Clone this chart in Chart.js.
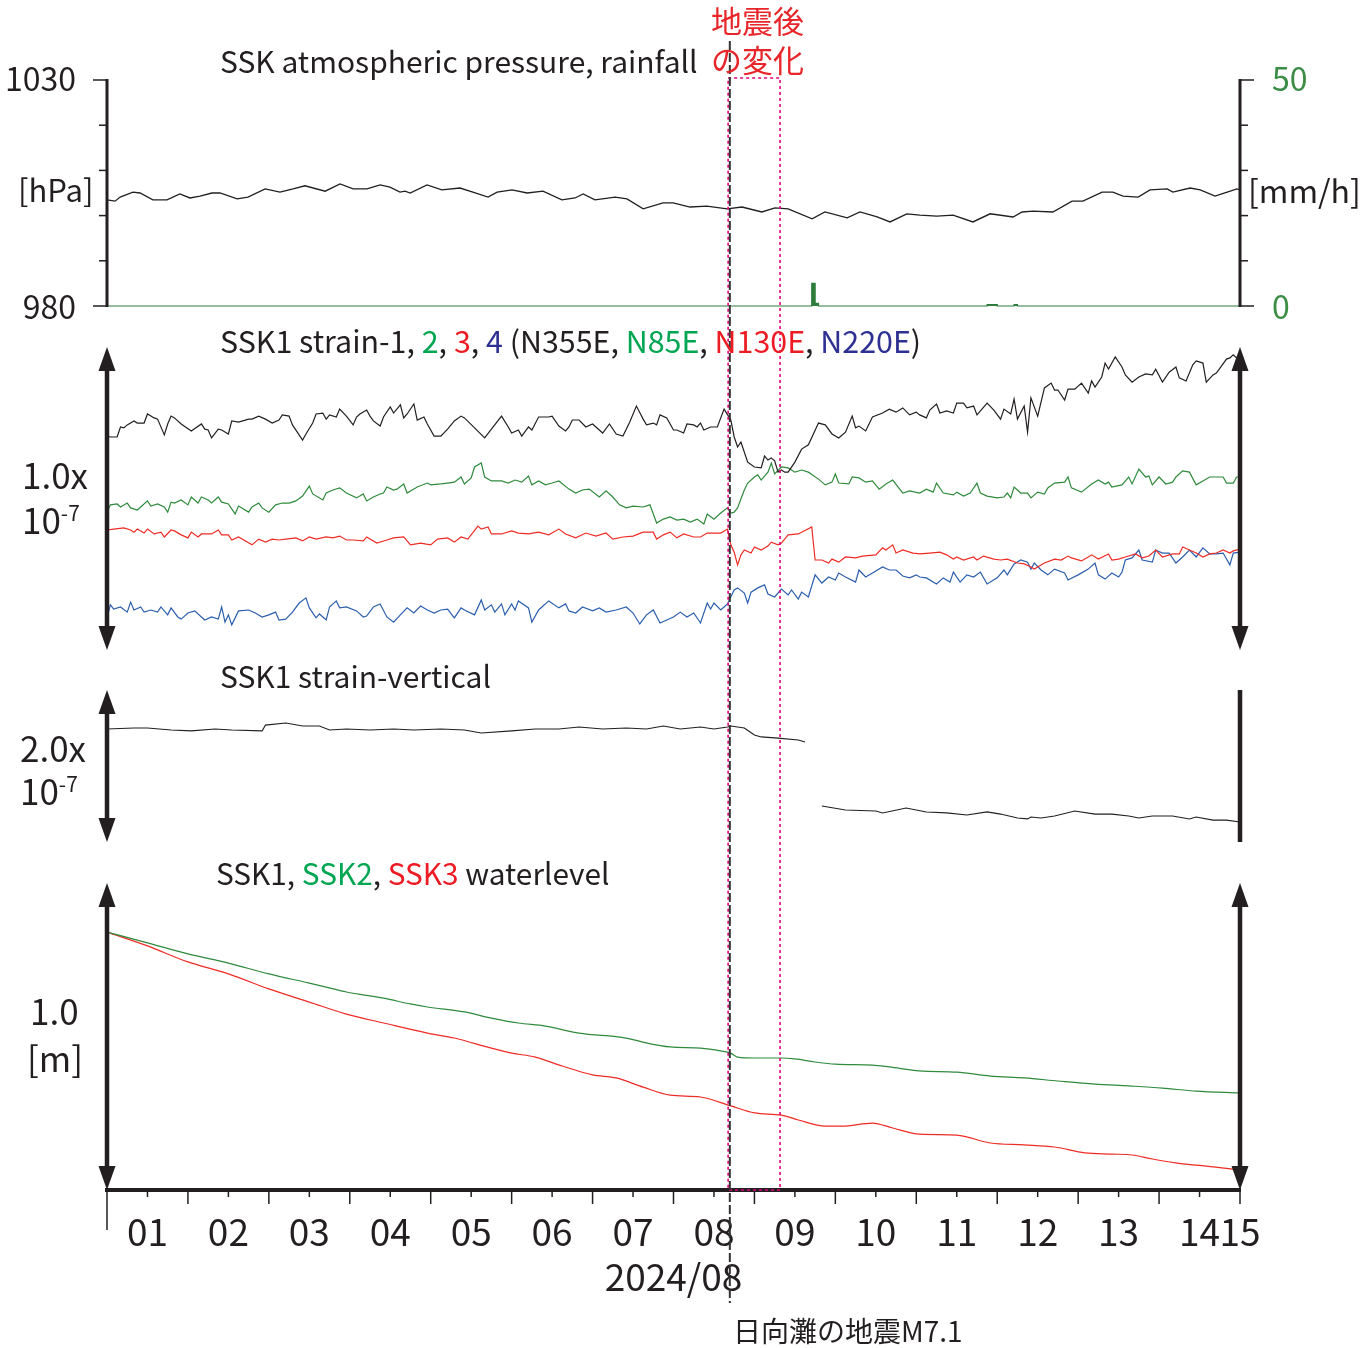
<!DOCTYPE html>
<html lang="ja">
<head>
<meta charset="utf-8">
<title>SSK 観測データ 2024/08</title>
<script src="https://cdn.jsdelivr.net/npm/chart.js@4.4.1/dist/chart.umd.min.js"></script>
<style>
    body { margin: 0; background: #ffffff; }
    #page { position: relative; width: 1371px; height: 1348px; overflow: hidden; }
    #obsChart { position: absolute; left: 0; top: 0; }
    .lbl { position: absolute; white-space: nowrap; line-height: 1; color: #231f20;
           font-family: "Noto Sans CJK JP", "Liberation Sans", sans-serif; }
    .lbl sup { font-size: 0.6em; position: relative; top: -0.6em; vertical-align: baseline; }
    .c2 { color: #00a651; }
    .c3 { color: #ed1c24; }
    .c4 { color: #2e3192; }
</style>
</head>
<body>
<div id="page">
    <canvas id="obsChart" width="1371" height="1348"></canvas>
</div>
<script>
// time axis: hours since 2024/08/01 00:00 (JST)
const dayLabels = ["01", "02", "03", "04", "05", "06", "07", "08", "09", "10", "11", "12", "13", "14", "15"];
const pressureTicks = [980, 990, 1000, 1010, 1020, 1030];
const rainTicks = [0, 10, 20, 30, 40, 50];
const quakeHour = 184.7;            // 日向灘 M7.1, 8/8 16:43
const changeWindow = [184.2, 199.6]; // 地震後の変化

// [hour, hPa]
const pressure = [[0,1003.5],[2.4,1003.2],[3.9,1004.1],[7.7,1005.2],[9.8,1005.0],[13.6,1003.5],[17.8,1003.5],[21.6,1004.8],[24.6,1003.9],[27.6,1004.3],[31.1,1005.0],[33.5,1005.0],[38.6,1003.7],[41.8,1004.1],[46.9,1005.9],[51.3,1005.2],[55.2,1005.9],[58.7,1006.6],[64.7,1005.4],[69.1,1007.0],[73.0,1005.9],[77.1,1005.9],[81.0,1006.8],[83.9,1006.3],[86.9,1005.2],[88.4,1005.4],[89.9,1005.0],[94.9,1006.8],[99.3,1005.7],[104.7,1006.1],[108.5,1005.2],[113.0,1004.1],[115.7,1005.2],[120.1,1005.7],[124.6,1005.0],[129.3,1005.4],[134.9,1003.5],[138.8,1003.9],[141.2,1004.8],[144.7,1003.5],[150.7,1004.1],[154.2,1003.7],[159.0,1001.5],[164.9,1002.8],[167.9,1002.8],[172.9,1001.9],[177.9,1002.1],[183.9,1001.5],[188.3,1001.9],[194.2,1000.8],[198.1,1001.7],[202.0,1001.5],[209.1,999.3],[212.9,1000.8],[219.5,999.5],[223.3,1000.8],[228.4,999.7],[232.2,998.6],[237.2,1000.4],[241.1,1000.1],[246.1,999.9],[250.9,1000.1],[256.8,998.6],[261.9,1000.4],[268.7,999.7],[271.4,1000.8],[274.6,1001.0],[280.5,1000.8],[286.2,1003.2],[289.4,1003.2],[295.1,1005.2],[298.3,1005.2],[301.3,1004.3],[305.8,1004.1],[309.3,1005.7],[314.4,1005.9],[316.1,1005.2],[321.2,1006.1],[324.2,1005.7],[328.6,1004.3],[332.2,1005.2],[335.1,1005.9],[336.0,1005.7]];

// [hour, mm/h]
const rainfall = [[0,0],[209,5.0],[210,0.6],[211,0],[261,0.3],[264,0],[269,0.3],[270,0],[336,0]];

// [hour, strain x1e-9]
const strain1 = [[0,70.6],[1,70.3],[3,70.3],[4,73.6],[5,73.3],[6,74.3],[8,75.6],[9,74.9],[11,74.9],[12,77.9],[14,76.6],[15,76.2],[17,71.0],[18,74.6],[19,77.2],[20,76.6],[22,74.6],[25,72.3],[28,74.6],[29,72.9],[30,72.6],[31,70.0],[33,72.9],[34,72.6],[36,71.3],[37,75.6],[39,75.2],[42,76.2],[43,76.2],[45,77.2],[47,76.2],[49,74.9],[51,75.9],[52,77.6],[54,77.2],[55,74.3],[58,69.3],[59,71.3],[61,74.9],[62,77.9],[64,78.2],[65,76.2],[66,77.6],[68,76.9],[69,79.5],[71,77.2],[73,74.3],[74,76.9],[75,77.9],[77,79.2],[78,77.2],[79,75.6],[81,73.9],[82,76.9],[84,80.2],[85,78.2],[87,80.9],[88,76.6],[89,77.9],[91,81.2],[92,75.9],[94,76.9],[95,74.6],[97,70.6],[99,70.6],[101,72.9],[103,75.6],[105,77.2],[106,76.6],[109,73.3],[112,70.0],[114,72.9],[117,77.2],[119,73.6],[120,71.6],[122,72.6],[123,70.6],[125,73.6],[126,72.6],[128,76.9],[131,76.9],[132,77.2],[134,73.9],[136,72.3],[137,73.6],[138,75.9],[140,75.9],[142,73.6],[144,74.6],[147,71.6],[149,74.6],[151,71.3],[153,70.6],[155,75.2],[157,80.5],[159,76.2],[160,74.3],[162,74.9],[163,74.3],[164,77.6],[166,76.6],[168,72.6],[169,72.6],[171,71.6],[172,74.6],[174,74.3],[175,73.6],[176,74.9],[177,72.6],[179,73.6],[181,73.6],[183,79.5],[185,75.9],[186,70.3],[187,67.0],[188,68.6],[190,62.0],[192,60.4],[194,60.1],[195,64.0],[196,62.7],[197,63.4],[198,62.4],[199,58.7],[200,59.4],[201,58.7],[202,58.7],[204,62.0],[206,66.3],[208,67.7],[211,74.9],[213,74.3],[215,71.3],[217,70.0],[219,71.9],[221,77.2],[222,73.3],[223,73.9],[225,72.3],[227,76.9],[230,78.2],[232,79.5],[234,78.5],[236,79.9],[238,77.6],[240,78.5],[241,77.6],[243,76.6],[244,79.2],[246,81.2],[247,78.2],[249,78.9],[251,78.2],[252,81.5],[254,81.5],[255,79.9],[257,80.5],[258,77.6],[261,81.5],[263,79.2],[265,76.2],[266,79.5],[268,77.9],[269,82.8],[270,76.2],[272,80.5],[273,71.9],[274,83.2],[276,77.2],[278,86.5],[280,88.1],[281,85.8],[282,85.8],[284,82.5],[285,86.1],[287,86.1],[289,88.1],[291,84.8],[292,88.8],[293,86.8],[295,90.1],[296,94.7],[297,92.7],[299,96.7],[301,93.4],[302,90.8],[304,88.4],[306,90.1],[308,91.1],[310,90.8],[311,92.7],[313,88.4],[315,91.7],[317,93.4],[318,89.8],[320,88.8],[322,94.1],[323,95.4],[325,94.7],[326,88.4],[328,90.8],[329,91.4],[332,96.0],[333,96.4],[334,97.4],[335,96.4],[336,95.7]];

const strain2 = [[0,45.5],[1,47.9],[3,48.2],[4,47.2],[6,48.5],[7,46.9],[9,46.2],[10,47.2],[12,49.2],[13,47.5],[15,48.2],[17,47.2],[18,45.5],[19,48.8],[20,48.5],[22,49.5],[24,47.9],[25,50.5],[27,48.5],[28,50.5],[30,49.5],[31,48.5],[33,50.5],[34,48.8],[36,48.2],[38,44.9],[39,47.5],[42,45.5],[43,47.2],[45,48.5],[46,46.9],[48,45.5],[50,47.9],[52,48.5],[54,48.5],[56,49.2],[58,50.8],[60,54.1],[61,51.5],[64,49.5],[65,51.8],[67,52.8],[69,53.5],[71,51.8],[74,50.2],[76,51.5],[77,49.2],[79,50.5],[81,51.5],[82,51.8],[83,53.8],[85,52.8],[86,53.1],[88,54.8],[89,51.8],[90,52.5],[92,53.8],[95,55.1],[96,54.5],[99,54.8],[101,55.1],[103,55.4],[105,57.1],[106,54.8],[108,56.8],[109,60.4],[111,61.7],[112,57.1],[114,55.8],[117,55.8],[119,55.1],[121,56.1],[123,55.4],[125,57.4],[126,54.5],[128,55.8],[130,54.5],[132,55.1],[134,55.8],[137,53.1],[139,51.8],[141,52.8],[143,53.1],[146,50.5],[148,52.5],[150,50.5],[152,47.9],[154,46.9],[156,47.5],[159,47.2],[161,47.9],[163,41.9],[165,43.2],[167,43.9],[169,42.9],[171,43.2],[173,42.2],[175,43.2],[177,41.6],[178,44.9],[180,43.2],[182,45.2],[184,46.9],[185,45.2],[186,45.5],[187,46.9],[189,52.8],[190,55.1],[192,57.1],[193,57.8],[194,56.1],[196,58.7],[197,61.7],[198,58.1],[200,60.4],[202,60.1],[204,58.7],[206,59.4],[208,58.7],[211,56.4],[213,54.5],[215,55.4],[216,58.1],[217,55.1],[220,54.8],[221,57.1],[223,56.8],[225,55.4],[227,55.8],[229,53.1],[231,54.8],[233,56.1],[236,51.8],[238,52.5],[241,51.8],[243,53.1],[245,52.1],[246,55.1],[248,51.8],[251,51.2],[252,52.1],[254,50.8],[256,51.8],[258,55.1],[259,51.8],[261,50.8],[264,50.2],[266,50.5],[267,51.8],[268,50.2],[269,53.8],[271,51.8],[273,51.8],[274,50.2],[276,52.1],[278,51.5],[279,53.5],[281,55.1],[284,55.4],[285,57.1],[286,53.5],[289,52.1],[292,54.8],[294,56.1],[296,54.8],[297,55.4],[298,53.8],[301,54.5],[303,57.1],[304,54.8],[306,59.7],[308,57.1],[309,57.4],[310,54.5],[312,57.1],[314,54.8],[316,55.4],[317,57.1],[319,59.1],[321,58.7],[323,54.5],[325,55.8],[327,57.1],[329,57.1],[331,57.1],[332,55.1],[334,55.1],[335,57.1],[336,57.1]];

const strain3 = [[0,39.6],[2,39.9],[5,40.3],[7,39.6],[8,38.9],[9,39.9],[11,38.6],[12,39.9],[14,38.3],[16,38.9],[17,37.3],[19,39.6],[20,39.3],[22,38.0],[24,37.0],[25,38.9],[27,37.3],[28,38.3],[31,38.3],[33,39.6],[34,38.0],[36,38.0],[37,36.3],[39,37.3],[43,34.7],[45,36.6],[47,35.6],[49,36.6],[51,36.3],[53,36.6],[56,37.0],[58,36.0],[60,37.3],[62,36.6],[65,37.3],[67,37.0],[69,37.6],[71,36.3],[73,36.3],[76,36.0],[77,37.3],[80,35.3],[83,36.3],[85,37.0],[88,37.3],[90,34.7],[93,35.3],[96,34.7],[98,36.6],[101,37.0],[103,35.6],[105,37.3],[107,36.6],[110,40.9],[111,39.9],[113,40.6],[114,38.3],[117,38.3],[120,39.3],[122,38.6],[125,38.3],[128,38.9],[131,38.0],[134,39.9],[136,38.3],[139,37.0],[142,38.6],[145,37.6],[148,38.6],[150,36.6],[153,37.3],[156,37.6],[159,38.9],[162,38.9],[163,36.6],[165,38.0],[167,38.9],[169,37.0],[171,38.3],[174,37.3],[176,37.3],[178,38.6],[180,38.6],[182,38.6],[184,39.9],[185,34.7],[186,32.3],[187,28.1],[188,31.4],[189,33.0],[191,32.0],[192,34.0],[194,33.0],[196,34.3],[197,35.6],[199,34.7],[200,35.3],[202,38.0],[205,38.3],[209,40.6],[210,29.7],[212,29.7],[214,28.7],[215,30.0],[217,29.0],[219,30.7],[222,30.4],[224,31.0],[228,31.4],[230,33.7],[231,33.0],[233,34.7],[234,32.0],[236,33.0],[239,32.0],[241,31.7],[244,32.0],[247,32.3],[249,31.4],[251,30.0],[252,30.7],[254,29.7],[257,30.7],[258,29.7],[260,31.0],[263,30.0],[265,29.7],[267,30.0],[270,28.7],[272,28.4],[274,27.4],[275,26.7],[276,27.4],[278,28.7],[281,30.0],[283,29.7],[285,31.0],[286,30.4],[289,29.4],[291,30.7],[292,31.4],[294,30.0],[297,31.7],[298,29.7],[300,30.0],[302,30.7],[305,31.7],[307,30.4],[309,31.0],[311,33.0],[313,30.7],[316,31.7],[318,31.7],[319,34.0],[321,33.0],[323,32.0],[325,30.7],[327,31.7],[329,32.0],[331,33.0],[333,32.0],[334,32.7],[336,33.3]];

const strain4 = [[0,10.6],[1,14.9],[2,13.5],[4,14.2],[6,12.5],[7,15.8],[8,13.2],[10,14.2],[11,12.5],[13,13.2],[15,12.5],[16,14.2],[18,11.6],[19,13.9],[21,10.9],[22,10.2],[24,12.2],[26,12.9],[28,10.9],[29,9.9],[31,10.9],[33,10.2],[34,14.2],[35,9.2],[36,11.6],[37,8.3],[39,12.9],[42,13.2],[44,12.2],[46,10.9],[48,11.6],[50,12.5],[51,9.9],[53,10.2],[55,12.5],[57,15.5],[59,17.2],[60,13.9],[62,10.6],[63,11.9],[65,9.9],[66,14.2],[68,16.2],[69,13.9],[71,14.2],[74,12.9],[76,10.9],[77,11.2],[79,14.2],[81,15.2],[83,10.9],[85,9.2],[87,11.6],[89,13.9],[91,12.2],[93,14.5],[95,13.2],[97,12.2],[99,13.2],[101,13.5],[103,10.6],[105,13.9],[106,13.2],[109,11.6],[111,16.5],[112,13.2],[114,14.9],[115,12.5],[117,15.2],[118,11.6],[120,15.2],[121,13.2],[122,16.2],[125,13.9],[126,9.2],[128,13.2],[131,16.2],[134,13.9],[136,15.2],[137,12.9],[139,12.2],[141,14.2],[144,12.9],[146,13.9],[148,12.5],[151,13.2],[154,14.2],[156,12.2],[158,8.6],[160,11.6],[162,13.2],[164,8.9],[166,9.9],[168,10.9],[170,12.5],[172,10.9],[174,12.2],[176,8.9],[178,15.5],[179,13.5],[180,15.5],[182,13.2],[183,14.2],[184,15.2],[186,19.8],[187,20.5],[189,18.8],[190,15.5],[191,19.1],[193,20.5],[195,21.5],[196,18.5],[198,17.5],[200,20.1],[202,18.2],[203,19.8],[205,16.8],[206,19.1],[208,17.5],[210,24.8],[212,22.1],[214,24.1],[216,23.1],[217,25.4],[219,24.1],[222,22.4],[223,26.4],[225,24.1],[228,26.1],[230,27.4],[232,26.4],[234,26.4],[236,24.4],[238,23.8],[240,24.8],[241,24.1],[243,23.8],[246,21.8],[248,23.8],[250,22.4],[251,25.7],[253,22.4],[255,24.8],[257,24.1],[259,25.7],[261,21.8],[264,23.8],[266,26.4],[267,24.8],[269,28.4],[271,29.7],[273,29.0],[274,26.7],[275,28.7],[277,26.4],[279,24.8],[281,26.7],[284,25.4],[285,23.1],[288,24.8],[291,26.7],[293,28.7],[294,24.8],[296,23.4],[298,25.4],[300,24.1],[301,25.7],[302,29.7],[304,30.4],[306,33.0],[307,29.7],[310,29.0],[311,33.0],[313,32.0],[315,32.0],[317,28.7],[319,30.7],[321,33.0],[323,30.7],[325,33.7],[327,31.7],[329,31.7],[331,32.0],[333,28.1],[334,32.0],[336,32.3]];

// [hour, strain x1e-9], null = no data
const strainVertical = [[0,148.7],[8,150.0],[12,150.0],[19,147.4],[25,146.1],[32,148.7],[37,147.4],[46,146.1],[47,153.9],[53,156.6],[58,152.6],[63,152.6],[66,147.4],[71,148.7],[78,147.4],[85,148.7],[91,147.4],[99,148.7],[106,147.4],[111,143.4],[120,146.1],[127,148.7],[134,148.7],[140,151.3],[147,148.7],[154,150.0],[160,148.7],[165,152.6],[170,148.7],[176,151.3],[180,148.7],[184,151.3],[185,152.6],[189,150.0],[192,140.8],[194,138.2],[199,136.8],[205,134.2],[207,131.6],[210,null],[212,47.4],[219,42.1],[228,40.8],[230,38.2],[237,44.7],[243,39.5],[249,38.2],[255,35.5],[261,39.5],[265,36.8],[270,31.6],[273,30.3],[274,32.9],[277,31.6],[281,34.2],[287,40.8],[293,36.8],[298,36.8],[303,34.2],[306,31.6],[310,34.2],[316,34.2],[321,30.3],[323,32.9],[328,28.9],[332,28.9],[336,26.3]];

// [hour, m]
const waterSSK2 = [[0,0.840],[12,0.805],[24,0.769],[36,0.739],[48,0.704],[60,0.674],[65,0.661],[71,0.645],[82,0.625],[90,0.606],[95,0.596],[106,0.580],[114,0.560],[122,0.544],[130,0.534],[140,0.511],[154,0.495],[160,0.479],[167,0.466],[176,0.462],[182,0.453],[185,0.446],[187,0.433],[192,0.430],[200,0.430],[204,0.427],[210,0.417],[216,0.410],[227,0.407],[232,0.401],[241,0.388],[252,0.384],[262,0.371],[272,0.365],[282,0.355],[293,0.345],[303,0.339],[313,0.332],[323,0.322],[336,0.316]];
const waterSSK3 = [[0,0.840],[12,0.795],[24,0.743],[36,0.704],[48,0.655],[60,0.612],[71,0.573],[82,0.544],[95,0.511],[103,0.495],[114,0.462],[120,0.446],[127,0.433],[135,0.404],[144,0.375],[151,0.365],[159,0.335],[167,0.309],[176,0.303],[185,0.274],[192,0.251],[200,0.244],[205,0.228],[213,0.208],[218,0.208],[227,0.218],[233,0.202],[241,0.182],[252,0.179],[262,0.153],[272,0.147],[281,0.140],[290,0.121],[298,0.117],[304,0.114],[310,0.101],[319,0.085],[326,0.078],[336,0.065]];

const ink = "#231f20";
const lineGreen = "#2f8a3c";
const lineRed = "#ee2b24";
const lineBlue = "#2b5fad";
const rainGreen = "#2e7d3c";
const eventPink = "#e5007e";

// plot area on the page, all panels share one x scale
const AREA_TOP = 80;
const AREA_BOTTOM = 1190;

// y range so that [lo, hi] lands between pixel rows yBottom and yTop
function band(lo, hi, yTop, yBottom) {
    const per = (hi - lo) / (yBottom - yTop);
    return { min: lo - (AREA_BOTTOM - yBottom) * per, max: hi + (yTop - AREA_TOP) * per };
}

function toPoints(pairs) {
    return pairs.map(p => ({ x: p[0], y: p[1] }));
}

function tickedAxis(c, x, scale, ticks, dir) {
    const y0 = scale.getPixelForValue(ticks[0]);
    const y1 = scale.getPixelForValue(ticks[ticks.length - 1]);
    c.lineWidth = 3;
    c.beginPath();
    c.moveTo(x, y0 + 1);
    c.lineTo(x, y1 - 1);
    c.stroke();
    c.lineWidth = 1.5;
    ticks.forEach((t, i) => {
        const y = scale.getPixelForValue(t);
        const len = (i === 0 || i === ticks.length - 1) ? 14 : 8;
        c.beginPath();
        c.moveTo(x, y);
        c.lineTo(x + dir * len, y);
        c.stroke();
    });
}

function arrowHead(c, x, tipY, dir) {
    c.beginPath();
    c.moveTo(x, tipY);
    c.lineTo(x - 8.5, tipY + dir * 24);
    c.lineTo(x + 8.5, tipY + dir * 24);
    c.closePath();
    c.fill();
}

function scaleArrow(c, x, yTop, yBottom, heads) {
    c.lineWidth = 4.5;
    c.beginPath();
    c.moveTo(x, heads ? yTop + 18 : yTop);
    c.lineTo(x, heads ? yBottom - 18 : yBottom);
    c.stroke();
    if (heads) {
        arrowHead(c, x, yTop, 1);
        arrowHead(c, x, yBottom, -1);
    }
}

const panelFrame = {
    id: "panelFrame",
    afterDraw(chart) {
        const c = chart.ctx;
        const s = chart.scales;
        const area = chart.chartArea;
        const left = s.x.getPixelForValue(0);
        const right = s.x.getPixelForValue(336);
        c.save();
        c.strokeStyle = ink;
        c.fillStyle = ink;

        tickedAxis(c, left, s.yP, pressureTicks, -1);
        tickedAxis(c, right, s.yR, rainTicks, 1);

        scaleArrow(c, left, s.yS.getPixelForValue(100), s.yS.getPixelForValue(0), true);
        scaleArrow(c, right, s.yS.getPixelForValue(100), s.yS.getPixelForValue(0), true);
        scaleArrow(c, left, s.yV.getPixelForValue(200), s.yV.getPixelForValue(0), true);
        scaleArrow(c, right, s.yV.getPixelForValue(200), s.yV.getPixelForValue(0), false);
        scaleArrow(c, left, s.yW.getPixelForValue(1.0), s.yW.getPixelForValue(0), true);
        scaleArrow(c, right, s.yW.getPixelForValue(1.0), s.yW.getPixelForValue(0), true);

        // day ticks (long) and noon ticks (short)
        c.lineWidth = 1.5;
        for (let h = 0; h <= 336; h += 12) {
            const x = s.x.getPixelForValue(h);
            let len = h % 24 === 0 ? 14 : 7;
            if (h === 0) len = 40;
            c.beginPath();
            c.moveTo(x, area.bottom);
            c.lineTo(x, area.bottom + len);
            c.stroke();
        }

        // 地震後の変化 window
        const xa = s.x.getPixelForValue(changeWindow[0]);
        const xb = s.x.getPixelForValue(changeWindow[1]);
        c.strokeStyle = eventPink;
        c.lineWidth = 1.6;
        c.setLineDash([3, 3]);
        c.strokeRect(xa, area.top - 2, xb - xa, area.bottom - area.top + 2);

        // earthquake time
        const xq = s.x.getPixelForValue(quakeHour);
        c.strokeStyle = "#333333";
        c.lineWidth = 2;
        c.setLineDash([9, 3]);
        c.beginPath();
        c.moveTo(xq, area.top - 39);
        c.lineTo(xq, area.bottom + 113);
        c.stroke();
        c.restore();
    }
};

const ctx = document.getElementById("obsChart").getContext("2d");

const obsChart = new Chart(ctx, {
    type: "line",
    data: {
        datasets: [
            {
                label: "SSK atmospheric pressure",
                data: toPoints(pressure),
                yAxisID: "yP",
                borderColor: ink,
                borderWidth: 1.3
            },
            {
                label: "rainfall",
                data: toPoints(rainfall),
                yAxisID: "yR",
                stepped: true,
                borderColor: rainGreen,
                backgroundColor: rainGreen,
                fill: "origin",
                borderWidth: 1.2
            },
            {
                label: "SSK1 strain-1 (N355E)",
                data: toPoints(strain1),
                yAxisID: "yS",
                borderColor: ink
            },
            {
                label: "SSK1 strain-2 (N85E)",
                data: toPoints(strain2),
                yAxisID: "yS",
                borderColor: lineGreen
            },
            {
                label: "SSK1 strain-3 (N130E)",
                data: toPoints(strain3),
                yAxisID: "yS",
                borderColor: lineRed
            },
            {
                label: "SSK1 strain-4 (N220E)",
                data: toPoints(strain4),
                yAxisID: "yS",
                borderColor: lineBlue
            },
            {
                label: "SSK1 strain-vertical",
                data: toPoints(strainVertical),
                yAxisID: "yV",
                borderColor: ink,
                spanGaps: false
            },
            {
                label: "SSK2 waterlevel",
                data: toPoints(waterSSK2),
                yAxisID: "yW",
                borderColor: lineGreen,
                cubicInterpolationMode: "monotone"
            },
            {
                label: "SSK3 waterlevel",
                data: toPoints(waterSSK3),
                yAxisID: "yW",
                borderColor: lineRed,
                cubicInterpolationMode: "monotone"
            }
        ]
    },
    options: {
        responsive: false,
        animation: false,
        devicePixelRatio: 1,
        layout: {
            padding: { left: 107, right: 131, top: 80, bottom: 0 }
        },
        elements: {
            point: { radius: 0 },
            line: { borderWidth: 1.2, tension: 0 }
        },
        plugins: {
            legend: { display: false },
            tooltip: { enabled: false }
        },
        scales: {
            x: {
                type: "linear",
                position: "bottom",
                min: 0,
                max: 336,
                afterFit: (scale) => { scale.height = 158; },
                border: { display: true, width: 4, color: ink },
                grid: { display: true, drawOnChartArea: false, drawTicks: false, color: "rgba(0,0,0,0)" },
                ticks: {
                    stepSize: 12,
                    autoSkip: false,
                    maxRotation: 0,
                    minRotation: 0,
                    padding: 20,
                    color: ink,
                    font: { family: "Noto Sans CJK JP", size: 37 },
                    callback: (value) => {
                        if (value % 24 === 12) return dayLabels[(value - 12) / 24];
                        if (value === 336) return dayLabels[14];
                        return "";
                    }
                },
                title: {
                    display: true,
                    text: "2024/08",
                    color: ink,
                    font: { family: "Noto Sans CJK JP", size: 37 },
                    padding: { top: 0, bottom: 49 }
                }
            },
            yP: { type: "linear", display: false, ...band(980, 1030, 80, 306) },
            yR: { type: "linear", display: false, ...band(0, 50, 80, 306) },
            yS: { type: "linear", display: false, ...band(0, 100, 347, 650) },
            yV: { type: "linear", display: false, ...band(0, 200, 690, 842) },
            yW: { type: "linear", display: false, ...band(0, 1.0, 883, 1190) }
        }
    },
    plugins: [panelFrame]
});

// panel titles and scale labels as page text
const page = document.getElementById("page");

function addLabel(html, x, y, size, extra) {
    const el = document.createElement("div");
    el.className = "lbl";
    el.innerHTML = html;
    el.style.fontSize = size + "px";
    el.style.top = (y - size * 0.6) + "px";
    el.style.left = x + "px";
    if (extra) Object.assign(el.style, extra);
    page.appendChild(el);
}

const alignRight = (x) => ({ left: "auto", right: (1371 - x) + "px" });

addLabel("SSK atmospheric pressure, rainfall", 220, 63, 30);
addLabel("地震後", 711, 23, 31, { color: "#e8262a" });
addLabel("の変化", 711, 62, 31, { color: "#e8262a" });
addLabel("1030", 76, 80, 32, alignRight(76));
addLabel("[hPa]", 18, 192, 31);
addLabel("980", 76, 308, 32, alignRight(76));
addLabel("50", 1272, 80, 32, { color: "#3b8c45" });
addLabel("[mm/h]", 1248, 192, 32);
addLabel("0", 1272, 308, 32, { color: "#3b8c45" });

addLabel('SSK1 strain-1, <span class="c2">2</span>, <span class="c3">3</span>, <span class="c4">4</span> (N355E, <span class="c2">N85E</span>, <span class="c3">N130E</span>, <span class="c4">N220E</span>)', 220, 343, 30.4);
addLabel("1.0x", 22, 477, 35);
addLabel("10<sup>-7</sup>", 22, 522, 35);

addLabel("SSK1 strain-vertical", 220, 678, 30);
addLabel("2.0x", 20, 750, 35);
addLabel("10<sup>-7</sup>", 20, 793, 35);

addLabel('SSK1, <span class="c2">SSK2</span>, <span class="c3">SSK3</span> waterlevel', 216, 876, 29.8);
addLabel("1.0", 30, 1013, 35);
addLabel("[m]", 27, 1060, 35);

addLabel("日向灘の地震M7.1", 733, 1333, 28);
</script>
</body>
</html>
